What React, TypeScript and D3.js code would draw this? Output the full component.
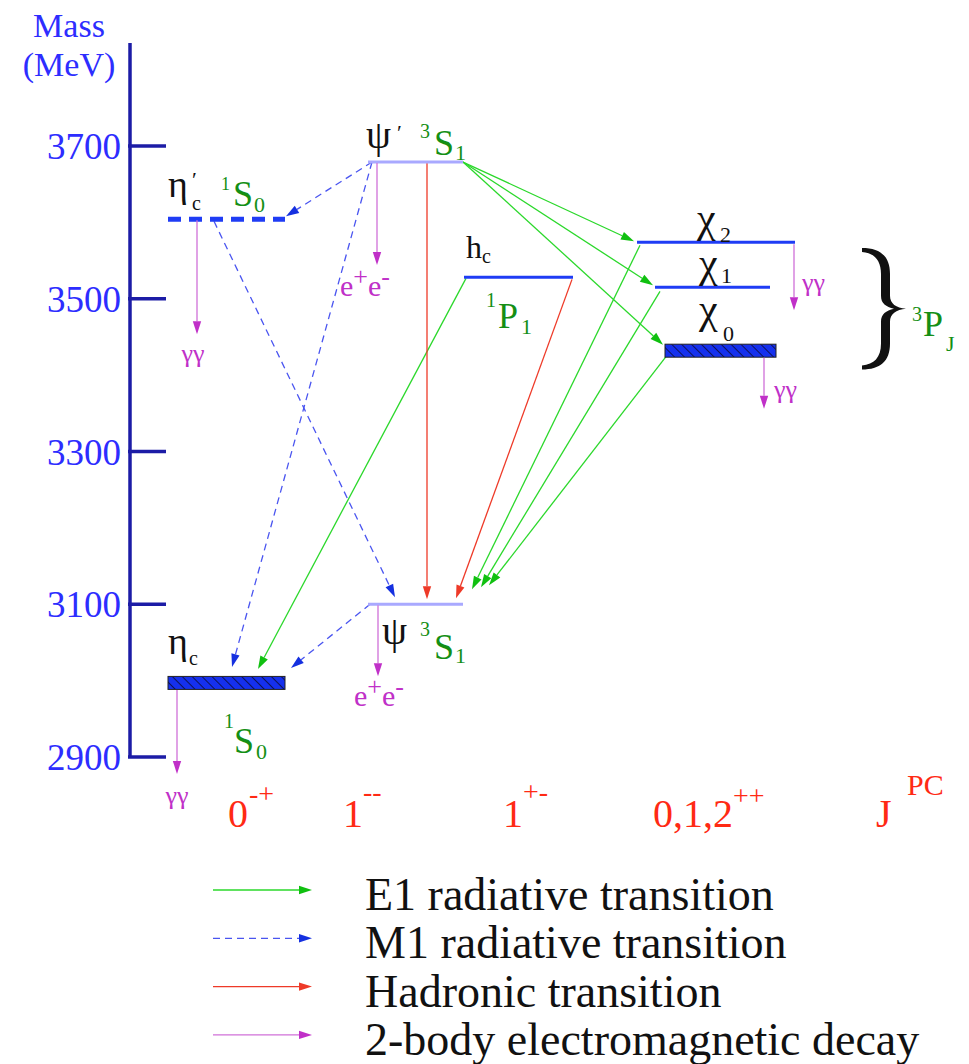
import React from "react";
import * as d3 from "d3";

// ---- Data ---------------------------------------------------------------
// Charmonium states and their masses (MeV)
const stateIds = ["etac", "psi", "etac2", "psi2", "hc", "chi0", "chi1", "chi2"];
const stateMass = [2997, 3100, 3604, 3679, 3528, 3432, 3515, 3574];

// Mass axis ticks
const massTicks = [2900, 3100, 3300, 3500, 3700];

// Transitions between states, grouped by kind
const e1Transitions: [string, string][] = [
  ["psi2", "chi2"],
  ["psi2", "chi1"],
  ["psi2", "chi0"],
  ["hc", "etac"],
  ["chi2", "psi"],
  ["chi1", "psi"],
  ["chi0", "psi"],
];
const m1Transitions: [string, string][] = [
  ["psi2", "etac2"],
  ["psi2", "etac"],
  ["etac2", "psi"],
  ["psi", "etac"],
];
const hadronicTransitions: [string, string][] = [
  ["psi2", "psi"],
  ["hc", "psi"],
];
// Two-body electromagnetic decays: [state, final state]
const emDecays: [string, string][] = [
  ["etac2", "γγ"],
  ["psi2", "e+e-"],
  ["chi2", "γγ"],
  ["chi0", "γγ"],
  ["psi", "e+e-"],
  ["etac", "γγ"],
];

// J^PC column labels
const jpcMain = ["0", "1", "1", "0,1,2", "J"];
const jpcSup = ["-+", "--", "+-", "++", "PC"];

const legendLabels = [
  "E1 radiative transition",
  "M1 radiative transition",
  "Hadronic transition",
  "2-body electromagnetic decay",
];

// ---- Layout & style -----------------------------------------------------
const W = 969;
const H = 1064;
const FONT = "'Liberation Serif', 'Times New Roman', 'DejaVu Serif', serif";

const C = {
  axis: "#1c1ca6",
  tick: "#2d2dff",
  level: "#1f3cf5",
  light: "#a9a9ff",
  green: "#2bd82b",
  greenHead: "#10c010",
  blue: "#4a55f0",
  blueHead: "#1530e0",
  red: "#ee3a28",
  magenta: "#d070d8",
  magentaHead: "#c030c8",
  label: "#158f15",
  red2: "#ff2a14",
};

const y = d3.scaleLinear().domain([2900, 3700]).range([757, 146]);

type LevelStyle = "band" | "dashed" | "solid" | "light";
// horizontal extent of each level line and its drawing style
const levelLayout: Record<string, { x0: number; x1: number; style: LevelStyle }> = {
  etac: { x0: 168, x1: 285, style: "band" },
  psi: { x0: 368, x1: 463, style: "light" },
  etac2: { x0: 168, x1: 285, style: "dashed" },
  psi2: { x0: 368, x1: 463, style: "light" },
  hc: { x0: 464, x1: 573, style: "solid" },
  chi0: { x0: 665, x1: 776, style: "band" },
  chi1: { x0: 655, x1: 770, style: "solid" },
  chi2: { x0: 637, x1: 795, style: "solid" },
};

const massOf = (id: string) => stateMass[stateIds.indexOf(id)];

// arrow geometry: start x, start y offset, tip x, tip y offset (relative to the levels)
type Geo = { sx: number; sdy: number; tx: number; tdy: number };
const e1Geo: Geo[] = [
  { sx: 463, sdy: 0, tx: 634, tdy: -1 },
  { sx: 463, sdy: 0, tx: 653, tdy: -2 },
  { sx: 463, sdy: 0, tx: 663, tdy: -6 },
  { sx: 466, sdy: 1, tx: 258, tdy: -14 },
  { sx: 640, sdy: 3, tx: 472, tdy: -15 },
  { sx: 660, sdy: 4, tx: 481, tdy: -17 },
  { sx: 666, sdy: 6, tx: 489, tdy: -19 },
];
const m1Geo: Geo[] = [
  { sx: 372, sdy: 0, tx: 286, tdy: -3 },
  { sx: 372, sdy: 0, tx: 232, tdy: -16 },
  { sx: 214, sdy: 2, tx: 395, tdy: -7 },
  { sx: 370, sdy: 0, tx: 291, tdy: -15 },
];
const hadGeo: Geo[] = [
  { sx: 427, sdy: 0, tx: 427, tdy: -5 },
  { sx: 572, sdy: 2, tx: 456, tdy: -6 },
];
// decay arrows: x, length, label position relative to tip
const decayGeo = [
  { x: 197, sdy: 1, len: 114, lx: -4, ly: 28, anchor: "middle" },
  { x: 377, sdy: 1, len: 102, lx: -12, ly: 31, anchor: "middle" },
  { x: 794, sdy: 2, len: 66, lx: 8, ly: -19, anchor: "start" },
  { x: 764, sdy: 7, len: 51, lx: 10, ly: -11, anchor: "start" },
  { x: 378, sdy: 1, len: 71, lx: 1, ly: 30, anchor: "middle" },
  { x: 177, sdy: 7, len: 84, lx: 0, ly: 30, anchor: "middle" },
];

type Piece = { t: string; dx: number; dy: number; size: number; fill: string };
const K = "#111";
// state labels, positioned relative to the left end of each level
const levelLabels: Record<string, Piece[]> = {
  etac2: [
    { t: "η", dx: 0, dy: -22, size: 38, fill: K },
    { t: "′", dx: 24, dy: -32, size: 22, fill: K },
    { t: "c", dx: 24, dy: -9, size: 20, fill: K },
    { t: "1", dx: 53, dy: -29, size: 18, fill: C.label },
    { t: "S", dx: 65, dy: -13, size: 36, fill: C.label },
    { t: "0", dx: 86, dy: -7, size: 22, fill: C.label },
  ],
  psi2: [
    { t: "ψ", dx: -2, dy: -14, size: 40, fill: K },
    { t: "′", dx: 29, dy: -22, size: 22, fill: K },
    { t: "3", dx: 52, dy: -24, size: 20, fill: C.label },
    { t: "S", dx: 66, dy: -7, size: 36, fill: C.label },
    { t: "1", dx: 87, dy: -2, size: 22, fill: C.label },
  ],
  hc: [
    { t: "h", dx: 2, dy: -19, size: 32, fill: K },
    { t: "c", dx: 18, dy: -14, size: 20, fill: K },
    { t: "1", dx: 22, dy: 30, size: 20, fill: C.label },
    { t: "P", dx: 34, dy: 51, size: 36, fill: C.label },
    { t: "1", dx: 57, dy: 57, size: 22, fill: C.label },
  ],
  chi2: [
    { t: "χ", dx: 60, dy: -10, size: 42, fill: K },
    { t: "2", dx: 83, dy: 0, size: 22, fill: K },
  ],
  chi1: [
    { t: "χ", dx: 44, dy: -10, size: 42, fill: K },
    { t: "1", dx: 66, dy: -4, size: 22, fill: K },
  ],
  chi0: [
    { t: "χ", dx: 34, dy: -28, size: 42, fill: K },
    { t: "0", dx: 58, dy: -10, size: 22, fill: K },
  ],
  etac: [
    { t: "η", dx: 0, dy: -29, size: 38, fill: K },
    { t: "c", dx: 21, dy: -18, size: 20, fill: K },
    { t: "1", dx: 56, dy: 45, size: 20, fill: C.label },
    { t: "S", dx: 66, dy: 70, size: 36, fill: C.label },
    { t: "0", dx: 88, dy: 76, size: 22, fill: C.label },
  ],
  psi: [
    { t: "ψ", dx: 14, dy: 40, size: 40, fill: K },
    { t: "3", dx: 52, dy: 32, size: 20, fill: C.label },
    { t: "S", dx: 66, dy: 55, size: 36, fill: C.label },
    { t: "1", dx: 87, dy: 59, size: 22, fill: C.label },
  ],
};

const jpcX = [228, 343, 503, 653, 876];
const jpcSupDx = [21, 20, 20, 80, 31];
const jpcSupDy = [-24, -26, -26, -22, -32];

// curly brace grouping the chi_J triplet: spans the chi levels vertically
function bracePath(x: number, yTop: number, yBot: number) {
  const ym = (yTop + yBot) / 2;
  const stem = x + 28;
  const tip = x + 44;
  const p = d3.path();
  p.moveTo(x, yTop);
  p.bezierCurveTo(x + 18, yTop, stem, yTop + 8, stem, yTop + 26);
  p.lineTo(stem, ym - 13);
  p.bezierCurveTo(stem, ym - 5, stem + 6, ym - 1, tip, ym);
  p.bezierCurveTo(stem + 6, ym + 1, stem, ym + 5, stem, ym + 13);
  p.lineTo(stem, yBot - 26);
  p.bezierCurveTo(stem, yBot - 8, x + 18, yBot, x, yBot);
  p.lineTo(x, yBot - 4);
  p.bezierCurveTo(x + 12, yBot - 5, stem - 9, yBot - 12, stem - 9, yBot - 26);
  p.lineTo(stem - 9, ym + 13);
  p.bezierCurveTo(stem - 9, ym + 5, stem - 4, ym + 2, stem + 4, ym);
  p.bezierCurveTo(stem - 4, ym - 2, stem - 9, ym - 5, stem - 9, ym - 13);
  p.lineTo(stem - 9, yTop + 26);
  p.bezierCurveTo(stem - 9, yTop + 12, x + 12, yTop + 5, x, yTop + 4);
  p.closePath();
  return p.toString();
}

function Arrow({
  x1, y1, x2, y2, color, head, dashed,
}: {
  x1: number; y1: number; x2: number; y2: number; color: string; head: string; dashed?: boolean;
}) {
  const ang = Math.atan2(y2 - y1, x2 - x1);
  const L = 13;
  const w = 4.2;
  const bx = x2 - L * Math.cos(ang);
  const by = y2 - L * Math.sin(ang);
  const px = -Math.sin(ang) * w;
  const py = Math.cos(ang) * w;
  const path = d3.path();
  path.moveTo(x2, y2);
  path.lineTo(bx + px, by + py);
  path.lineTo(bx - px, by - py);
  path.closePath();
  return (
    <g>
      <line
        x1={x1}
        y1={y1}
        x2={bx}
        y2={by}
        stroke={color}
        strokeWidth={1.3}
        strokeDasharray={dashed ? "7 5" : undefined}
      />
      <path d={path.toString()} fill={head} />
    </g>
  );
}

function Pieces({ x, y0, pieces }: { x: number; y0: number; pieces: Piece[] }) {
  return (
    <g>
      {pieces.map((p, i) => (
        <text key={i} x={x + p.dx} y={y0 + p.dy} fontSize={p.size} fill={p.fill} style={{ fontFamily: FONT }}>
          {p.t}
        </text>
      ))}
    </g>
  );
}

export default function App() {
  const ly = (id: string) => y(massOf(id));

  const drawTransitions = (
    list: [string, string][],
    geo: Geo[],
    color: string,
    head: string,
    dashed = false
  ) =>
    list.map(([from, to], i) => {
      const g = geo[i];
      return (
        <Arrow
          key={from + to + i}
          x1={g.sx}
          y1={ly(from) + g.sdy}
          x2={g.tx}
          y2={ly(to) + g.tdy}
          color={color}
          head={head}
          dashed={dashed}
        />
      );
    });

  const legendColors = [
    [C.green, C.greenHead, false],
    [C.blue, C.blueHead, true],
    [C.red, C.red, false],
    [C.magenta, C.magentaHead, false],
  ] as [string, string, boolean][];

  return (
    <svg
      width={W}
      height={H}
      style={{ position: "absolute", left: 0, top: 0, background: "#fff", fontFamily: FONT }}
    >
      <defs>
        <pattern id="hatch" patternUnits="userSpaceOnUse" width="7" height="7" patternTransform="rotate(-45)">
          <rect width="7" height="7" fill="#1530ee" />
          <line x1="0" y1="0" x2="0" y2="7" stroke="#0a0a30" strokeWidth="1.6" />
        </pattern>
      </defs>

      {/* mass axis */}
      <text x={69} y={37} fontSize={34} fill={C.tick} textAnchor="middle">Mass</text>
      <text x={69} y={76} fontSize={34} fill={C.tick} textAnchor="middle">(MeV)</text>
      <line x1={130} x2={130} y1={43} y2={y(2900)} stroke={C.axis} strokeWidth={3.5} />
      {massTicks.map((t) => (
        <g key={t}>
          <line x1={128} x2={166} y1={y(t)} y2={y(t)} stroke={C.axis} strokeWidth={3.5} />
          <text x={121} y={y(t) + 13} fontSize={37} fill={C.tick} textAnchor="end">
            {t}
          </text>
        </g>
      ))}

      {/* transitions */}
      {drawTransitions(e1Transitions, e1Geo, C.green, C.greenHead)}
      {drawTransitions(m1Transitions, m1Geo, C.blue, C.blueHead, true)}
      {drawTransitions(hadronicTransitions, hadGeo, C.red, C.red)}

      {/* levels */}
      {stateIds.map((id) => {
        const L = levelLayout[id];
        const yy = ly(id);
        if (L.style === "band")
          return (
            <rect key={id} x={L.x0} y={yy - 6.5} width={L.x1 - L.x0} height={13} fill="url(#hatch)" stroke="#222" strokeWidth={1} />
          );
        if (L.style === "dashed")
          return (
            <line key={id} x1={L.x0} x2={L.x1} y1={yy} y2={yy} stroke={C.level} strokeWidth={5} strokeDasharray="13 8" />
          );
        return (
          <line key={id} x1={L.x0} x2={L.x1} y1={yy} y2={yy} stroke={L.style === "light" ? C.light : C.level} strokeWidth={3} />
        );
      })}

      {/* electromagnetic decays */}
      {emDecays.map(([id, fs], i) => {
        const g = decayGeo[i];
        const y1 = ly(id) + g.sdy;
        const y2 = y1 + g.len;
        const tx = g.x + g.lx;
        const ty = y2 + g.ly;
        return (
          <g key={id + i}>
            <Arrow x1={g.x} y1={y1} x2={g.x} y2={y2} color={C.magenta} head={C.magentaHead} />
            {fs === "γγ" ? (
              <text x={tx} y={ty} fontSize={26} fill={C.magentaHead} textAnchor={g.anchor as any}>
                γγ
              </text>
            ) : (
              <text x={tx} y={ty} fontSize={30} fill={C.magentaHead} textAnchor={g.anchor as any}>
                e<tspan fontSize={26} dy={-11}>+</tspan>
                <tspan dy={11}>e</tspan>
                <tspan fontSize={26} dy={-11}>-</tspan>
              </text>
            )}
          </g>
        );
      })}

      {/* state labels */}
      {stateIds.map((id) => (
        <Pieces key={id} x={levelLayout[id].x0} y0={ly(id)} pieces={levelLabels[id]} />
      ))}

      {/* 3P_J brace */}
      <path d={bracePath(862, y(3577) + 8, y(3423) + 12)} fill="#111" />
      <text x={912} y={321} fontSize={20} fill={C.label}>3</text>
      <text x={923} y={336} fontSize={36} fill={C.label}>P</text>
      <text x={946} y={351} fontSize={22} fill={C.label}>J</text>

      {/* J^PC row */}
      {jpcMain.map((m, i) => (
        <g key={i}>
          <text x={jpcX[i]} y={827} fontSize={40} fill={C.red2}>{m}</text>
          <text x={jpcX[i] + jpcSupDx[i]} y={827 + jpcSupDy[i]} fontSize={i === 4 ? 30 : 28} fill={C.red2}>
            {jpcSup[i]}
          </text>
        </g>
      ))}

      {/* legend */}
      {legendLabels.map((lab, i) => {
        const yy = 890 + i * 48.3;
        const [col, head, dashed] = legendColors[i];
        return (
          <g key={lab}>
            <Arrow x1={213} y1={yy} x2={312} y2={yy} color={col} head={head} dashed={dashed} />
            <text x={365} y={yy + 20} fontSize={46} fill="#111">{lab}</text>
          </g>
        );
      })}
    </svg>
  );
}
